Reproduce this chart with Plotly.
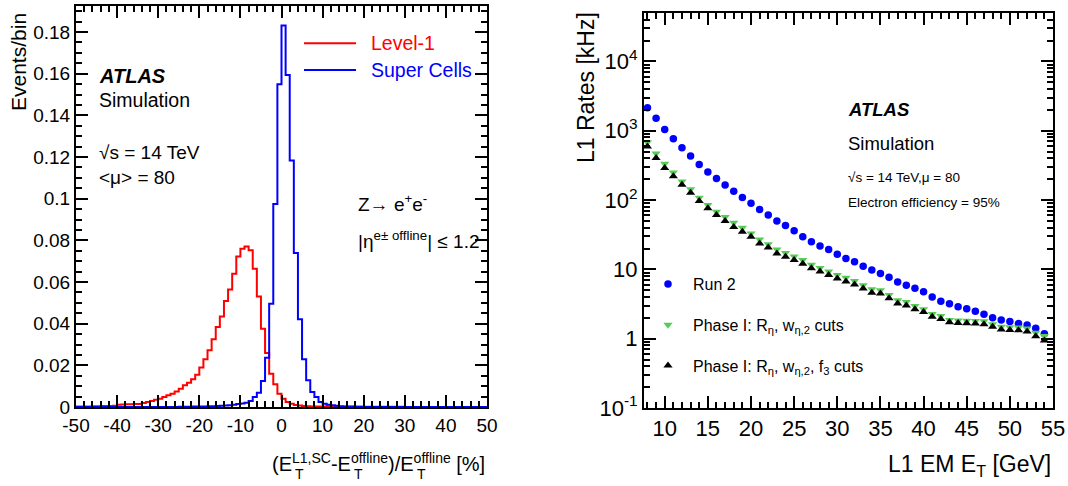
import plotly.graph_objects as go

W, H = 1068, 486
FONT = "Liberation Sans, Arial, sans-serif"

# ---------------- left panel: energy resolution histograms ----------------
bin_edges = list(range(-50, 51))  # 1% bins from -50 to 50

level1 = [
    0.0002, 0.0002, 0.0003, 0.0003, 0.0004, 0.0004, 0.0005, 0.0005, 0.0005, 0.0006,
    0.0011, 0.0012, 0.0013, 0.0013, 0.0014, 0.0015, 0.0019, 0.0024, 0.0029, 0.0035,
    0.0040, 0.0048, 0.0056, 0.0064, 0.0075, 0.0088, 0.0104, 0.0117, 0.0133, 0.0155,
    0.0190, 0.0229, 0.0272, 0.0325, 0.0384, 0.0435, 0.0509, 0.0564, 0.0640, 0.0723,
    0.0760, 0.0771, 0.0752, 0.0664, 0.0531, 0.0376, 0.0259, 0.0160, 0.0109, 0.0064,
    0.0040, 0.0024, 0.0016, 0.0010, 0.0007, 0.0005, 0.0004, 0.0003, 0.0003, 0.0002,
    0.0002, 0.0002, 0.0001, 0.0001, 0.0001, 0.0001, 0.0001, 0.0001, 0.0001, 0.0001,
    0.0001, 0.0001, 0.0001, 0.0001, 0.0001, 0.0001, 0.0001, 0.0001, 0.0001, 0.0001,
    0.0000, 0.0000, 0.0000, 0.0000, 0.0000, 0.0000, 0.0000, 0.0000, 0.0000, 0.0000,
    0.0000, 0.0000, 0.0000, 0.0000, 0.0000, 0.0000, 0.0000, 0.0000, 0.0000, 0.0000,
]

super_cells = [
    0.0000, 0.0000, 0.0000, 0.0000, 0.0000, 0.0000, 0.0000, 0.0000, 0.0000, 0.0000,
    0.0000, 0.0000, 0.0000, 0.0000, 0.0000, 0.0000, 0.0000, 0.0000, 0.0000, 0.0000,
    0.0000, 0.0000, 0.0000, 0.0000, 0.0000, 0.0001, 0.0001, 0.0001, 0.0002, 0.0002,
    0.0002, 0.0003, 0.0004, 0.0004, 0.0005, 0.0006, 0.0007, 0.0009, 0.0011, 0.0014,
    0.0017, 0.0021, 0.0029, 0.0048, 0.0069, 0.0125, 0.0237, 0.0496, 0.0975, 0.1549,
    0.1831, 0.1594, 0.1183, 0.0739, 0.0421, 0.0229, 0.0128, 0.0072, 0.0048, 0.0024,
    0.0016, 0.0011, 0.0008, 0.0006, 0.0004, 0.0003, 0.0002, 0.0002, 0.0001, 0.0001,
    0.0000, 0.0000, 0.0000, 0.0000, 0.0000, 0.0000, 0.0000, 0.0000, 0.0000, 0.0000,
    0.0000, 0.0000, 0.0000, 0.0000, 0.0000, 0.0000, 0.0000, 0.0000, 0.0000, 0.0000,
    0.0000, 0.0000, 0.0000, 0.0000, 0.0000, 0.0000, 0.0000, 0.0000, 0.0000, 0.0000,
]

left_xticks = [-50, -40, -30, -20, -10, 0, 10, 20, 30, 40, 50]
left_xticklabels = ["-50", "-40", "-30", "-20", "-10", "0", "10", "20", "30", "40", "50"]
left_yticks = [0, 0.02, 0.04, 0.06, 0.08, 0.1, 0.12, 0.14, 0.16, 0.18]
left_yticklabels = ["0", "0.02", "0.04", "0.06", "0.08", "0.1", "0.12", "0.14", "0.16", "0.18"]

# ---------------- right panel: L1 EM trigger rates ----------------
l1_et = [8, 9, 10, 11, 12, 13, 14, 15, 16, 17, 18, 19, 20, 21, 22, 23, 24, 25, 26, 27,
         28, 29, 30, 31, 32, 33, 34, 35, 36, 37, 38, 39, 40, 41, 42, 43, 44, 45, 46, 47,
         48, 49, 50, 51, 52, 53, 54]

rate_run2 = [2150, 1510, 1047, 769, 570, 432, 327, 254, 204, 165, 134, 109, 90, 73, 61,
             50, 43, 36, 29.6, 25, 21.7, 19.4, 16.5, 14.4, 12.9, 11.1, 9.8, 8.75, 7.7,
             6.6, 5.9, 5.35, 4.77, 3.99, 3.46, 3.18, 2.88, 2.70, 2.48, 2.25, 2.0, 1.86,
             1.77, 1.65, 1.58, 1.41, 1.18]

rate_phase1 = [680, 470, 333, 249, 186, 143, 108, 85, 68, 57, 47, 40, 33, 27, 23, 19.4,
               17.2, 15.3, 13.6, 11.7, 10.5, 9.3, 8.3, 7.6, 6.8, 5.9, 5.15, 5.0, 4.27,
               3.6, 3.37, 2.96, 2.65, 2.27, 2.12, 1.86, 1.83, 1.81, 1.80, 1.79, 1.61,
               1.49, 1.46, 1.45, 1.40, 1.22, 1.09]

rate_phase1_f3 = [595, 405, 290, 220, 167, 127, 97, 76, 61, 50, 41, 35, 29.6, 23.7, 20.6,
                  16.9, 15.2, 13.6, 12.1, 10.4, 9.3, 8.3, 7.4, 6.7, 6.05, 5.28, 4.6, 4.48,
                  3.82, 3.23, 3.02, 2.65, 2.42, 2.08, 1.92, 1.72, 1.68, 1.67, 1.65, 1.62,
                  1.49, 1.36, 1.33, 1.32, 1.27, 1.08, 0.94]

right_xticks = [10, 15, 20, 25, 30, 35, 40, 45, 50, 55]
right_yticks = [0.1, 1, 10, 100, 1000, 10000]
right_yticklabels = ["10<sup>-1</sup>", "1", "10", "10<sup>2</sup>", "10<sup>3</sup>", "10<sup>4</sup>"]
right_yminor = [m * d for d in [0.1, 1, 10, 100, 1000, 10000] for m in range(2, 10)]


def px(x):
    return x / W


def py(y):
    return 1 - y / H


fig = go.Figure()

# step histograms: repeat the last bin content so the final bin is closed
fig.add_trace(go.Scatter(
    x=bin_edges, y=level1 + level1[-1:], mode="lines", line_shape="hv",
    line=dict(color="#ff0000", width=2), showlegend=False,
    xaxis="x", yaxis="y"))
fig.add_trace(go.Scatter(
    x=bin_edges, y=super_cells + super_cells[-1:], mode="lines", line_shape="hv",
    line=dict(color="#0000ff", width=2), showlegend=False,
    xaxis="x", yaxis="y"))

fig.add_trace(go.Scatter(
    x=l1_et, y=rate_run2, mode="markers", name="Run 2",
    marker=dict(symbol="circle", size=7.5, color="#0000ff"),
    legendgroup="a", xaxis="x2", yaxis="y2"))
fig.add_trace(go.Scatter(
    x=l1_et, y=rate_phase1, mode="markers",
    name="Phase I: R<sub>η</sub>, w<sub>η,2</sub> cuts",
    marker=dict(symbol="triangle-down", size=8, color="#55cc55"),
    legendgroup="b", xaxis="x2", yaxis="y2"))
fig.add_trace(go.Scatter(
    x=l1_et, y=rate_phase1_f3, mode="markers",
    name="Phase I: R<sub>η</sub>, w<sub>η,2</sub>, f<sub>3</sub> cuts",
    marker=dict(symbol="triangle-up", size=8, color="#000000"),
    legendgroup="c", xaxis="x2", yaxis="y2"))

axis_common = dict(
    showline=True, linecolor="black", linewidth=2, mirror="allticks",
    ticks="inside", ticklen=12, tickwidth=1.5, tickcolor="black",
    showgrid=False, zeroline=False, automargin=False,
)

fig.update_layout(
    width=W, height=H,
    margin=dict(l=0, r=0, t=0, b=0, autoexpand=False),
    paper_bgcolor="white", plot_bgcolor="white",
    font=dict(family=FONT, color="black"),
    xaxis=dict(
        domain=[px(76), px(487)], range=[-50, 50], anchor="y",
        tickmode="array", tickvals=left_xticks, ticktext=left_xticklabels,
        tickfont=dict(size=19),
        minor=dict(ticks="inside", ticklen=6, tickwidth=1.5, tickcolor="black",
                   dtick=2, tick0=0),
        **axis_common),
    yaxis=dict(
        domain=[py(407), py(6)], range=[0, 0.1925], anchor="x",
        tickmode="array", tickvals=left_yticks, ticktext=left_yticklabels,
        tickfont=dict(size=19),
        minor=dict(ticks="inside", ticklen=6, tickwidth=1.5, tickcolor="black",
                   dtick=0.005, tick0=0),
        **axis_common),
    xaxis2=dict(
        domain=[px(644), px(1053)], range=[7.6, 55], anchor="y2",
        tickmode="array", tickvals=right_xticks,
        tickfont=dict(size=22),
        minor=dict(ticks="inside", ticklen=6, tickwidth=1.5, tickcolor="black",
                   dtick=1, tick0=0),
        **axis_common),
    yaxis2=dict(
        domain=[py(408), py(13)], type="log", range=[-1, 4.699], anchor="x2",
        tickmode="array", tickvals=right_yticks, ticktext=right_yticklabels,
        tickfont=dict(size=22),
        minor=dict(ticks="inside", ticklen=6, tickwidth=1.5, tickcolor="black",
                   tickmode="array", tickvals=right_yminor),
        **axis_common),
    legend=dict(
        x=px(643), y=py(267), xanchor="left", yanchor="top",
        font=dict(size=16, family=FONT), bgcolor="rgba(0,0,0,0)",
        borderwidth=0, tracegroupgap=17, traceorder="grouped",
        itemwidth=40,
    ),
)

annotations = []


def label(x, y, text, size, color="black", xanchor="left", yanchor="middle", angle=0):
    annotations.append(dict(
        x=px(x), y=py(y), xref="paper", yref="paper", text=text, showarrow=False,
        xanchor=xanchor, yanchor=yanchor, textangle=angle,
        font=dict(size=size, color=color, family=FONT)))


# axis titles
label(18.5, 62.5, "Events/bin", 21, angle=-90, xanchor="center", yanchor="middle")
label(487, 462, "(E<sup>L1,SC</sup>-E<sup>offline</sup>)/E<sup>offline</sup> [%]", 20,
      xanchor="right")
for tx in [293, 352, 415]:
    label(tx, 474, "T", 14)
label(586, 88, "L1 Rates [kHz]", 23, angle=-90, xanchor="center")
label(1053, 465, "L1 EM E<sub>T</sub> [GeV]", 23, xanchor="right")

# left panel text
label(97, 76, "<b><i>ATLAS</i></b>", 20)
label(97, 100, "Simulation", 19.5)
label(97, 152, "√s = 14 TeV", 19)
label(97, 177, "&lt;μ&gt; = 80", 19)
label(356, 203, "Z→ e<sup>+</sup>e<sup>-</sup>", 19)
label(356, 240, "|η<sup>e± offline</sup>| ≤ 1.2", 19)

# left legend
label(369, 43, "Level-1", 19.5, color="#ff0000")
label(369, 70, "Super Cells", 19.5, color="#0000ff")
shapes = [
    dict(type="line", xref="paper", yref="paper", x0=px(304), x1=px(356),
         y0=py(43.3), y1=py(43.3), line=dict(color="#ff0000", width=2)),
    dict(type="line", xref="paper", yref="paper", x0=px(304), x1=px(356),
         y0=py(70), y1=py(70), line=dict(color="#0000ff", width=2)),
]

# right panel text
label(846, 110, "<b><i>ATLAS</i></b>", 18.5)
label(846, 143, "Simulation", 18.5)
label(846, 177, "√s = 14 TeV,μ = 80", 13.5)
label(846, 202, "Electron efficiency = 95%", 13.5)

fig.update_layout(annotations=annotations, shapes=shapes)

fig.write_html("out.html")
